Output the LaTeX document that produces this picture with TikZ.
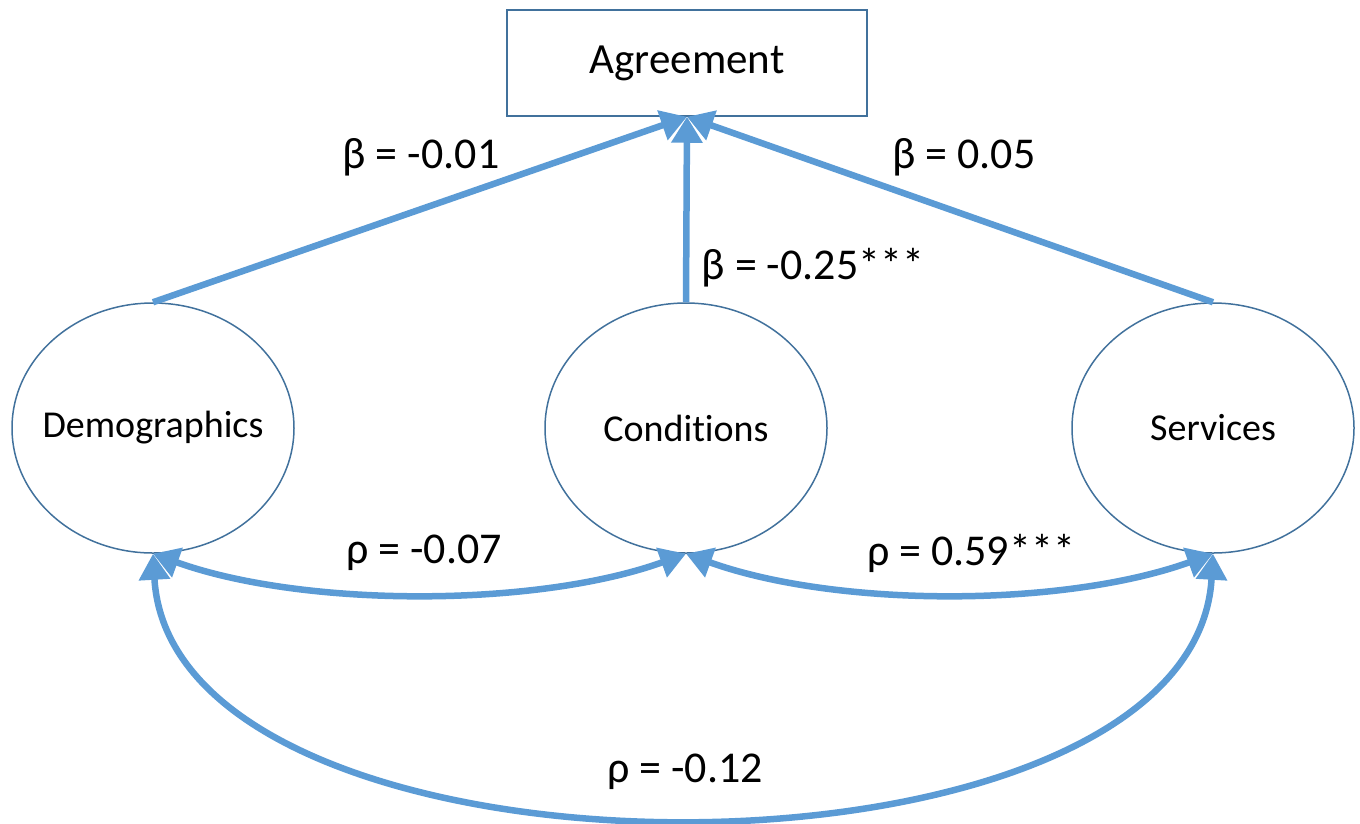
\documentclass[tikz,border=0pt]{standalone}
\usepackage{fontspec}
\setmainfont{Carlito}[Ligatures=NoCommon]
\usetikzlibrary{shapes.geometric,arrows.meta}
\definecolor{linkblue}{RGB}{91,155,213}
\definecolor{edgeblue}{RGB}{65,113,156}
\tikzset{
  latent/.style={ellipse, draw=edgeblue, line width=1.5pt, minimum width=282pt, minimum height=250pt, inner sep=0pt, font=\fontsize{38}{42}\selectfont},
  observed/.style={rectangle, draw=edgeblue, line width=1.5pt, minimum width=360pt, minimum height=106pt, inner sep=0pt, font=\fontsize{43}{46}\selectfont},
  arr/.style={draw=linkblue, line width=6.5pt, -{Triangle[length=26pt,width=30pt]}},
  darr/.style={draw=linkblue, line width=6.5pt, {Triangle[length=26pt,width=30pt]}-{Triangle[length=26pt,width=30pt]}},
  lbl/.style={font=\fontsize{44}{48}\selectfont, inner sep=0pt}
}
\begin{document}
\begin{tikzpicture}[x=1pt,y=-1pt]
\useasboundingbox (0,0) rectangle (1360,823);
\node[observed] (agr) at (687,63) {Agreement};
\node[latent] (dem) at (153,428) {\makebox[0pt]{Demographics}};
\node[latent] (con) at (686,428) {\makebox[0pt]{Conditions}};
\node[latent] (ser) at (1213,428) {\makebox[0pt]{Services}};
\draw[arr] (dem.north) -- (agr.south);
\draw[arr] (con.north) -- (agr.south);
\draw[arr] (ser.north) -- (agr.south);
\draw[darr] (dem.south) .. controls +(150,54) and +(-150,54) .. (con.south);
\draw[darr] (con.south) .. controls +(150,54) and +(-150,54) .. (ser.south);
\draw[darr] (dem.south) .. controls +(20,350) and +(-20,350) .. (ser.south);
\node[lbl] (l1) at (421,157) {β = -0.01};
\node[lbl] (l2) at (813,268) {β = -0.25***};
\node[lbl] (l3) at (964,157) {β = 0.05};
\node[lbl] (l4) at (424,553) {ρ = -0.07};
\node[lbl] (l5) at (971,553) {ρ = 0.59***};
\node[lbl] (l6) at (685,772) {ρ = -0.12};
\end{tikzpicture}
\end{document}
